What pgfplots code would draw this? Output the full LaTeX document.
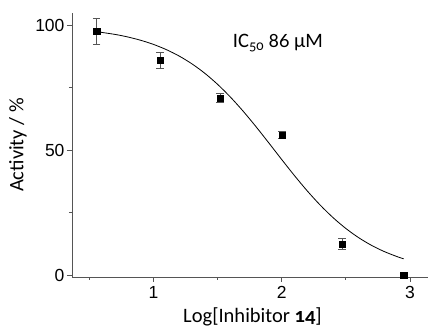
\documentclass[border=0pt]{standalone}
\usepackage{fontspec}
\setmainfont{Carlito}[Numbers=OldStyle]
\newfontfamily\tickfont{Liberation Sans}
\usepackage{pgfplots}
\pgfplotsset{compat=1.18}
\definecolor{axgray}{HTML}{555555}
\begin{document}
\begin{tikzpicture}
\begin{axis}[
  name=ax,
  scale only axis,
  width=356pt, height=264pt,
  xmin=0.364, xmax=3.14,
  ymin=-0.8, ymax=105,
  axis x line=bottom, axis y line=left,
  axis line style={-, axgray, line width=0.9pt},
  tick style={axgray, line width=0.9pt},
  tick align=outside,
  major tick length=5pt, minor tick length=3pt,
  xtick={1,2,3}, ytick={0,50,100},
  minor xtick={0.5,1.5,2.5}, minor ytick={25,75},
  /pgf/number format/assume math mode=true,
  ticklabel style={font=\tickfont\fontsize{17.5}{20}\selectfont, black},
  yticklabel style={xshift=1pt},
  xticklabel style={yshift=-1pt},
  xlabel={Log[Inhibitor \textbf{14}]},
  ylabel={Activity / \%},
  label style={font=\fontsize{20.5}{24}\selectfont},
  xlabel style={at={(axis description cs:0.507,-0.152)}, anchor=center},
  ylabel style={at={(axis description cs:-0.152,0.5)}, anchor=center},
  clip=false,
]
\addplot[black, line width=0.8pt, smooth] coordinates {
(0.556,97.52) (0.7,96.41) (0.8,95.38) (0.9,94.06) (1.0,92.40) (1.1,90.31)
(1.2,87.74) (1.3,84.59) (1.4,80.82) (1.5,76.37) (1.6,71.26) (1.7,65.56)
(1.8,59.36) (1.9,52.85) (2.0,46.23) (2.1,39.75) (2.2,33.61) (2.3,27.98)
(2.4,22.97) (2.5,18.62) (2.6,14.93) (2.7,11.87) (2.8,9.37) (2.9,7.35) (2.95,6.50)
};
\addplot[only marks, mark=square*, mark size=3.1pt, black,
  error bars/.cd, y dir=both, y explicit,
  error bar style={axgray, line width=0.8pt},
  error mark options={axgray, line width=0.8pt, rotate=90, mark size=3.8pt}]
coordinates {
(0.556,97.7) +- (0,5.2)
(1.05,86.0) +- (0,3.1)
(1.52,70.8) +- (0,1.8)
(2.0,56.1) +- (0,1.5)
(2.47,12.4) +- (0,2.2)
(2.95,0.0) +- (0,0.5)
};
\node[font=\fontsize{20.5}{24}\selectfont, anchor=center] at (axis cs:1.97,92.8) {IC\textsubscript{50} 86 µM};
\end{axis}
\pgfresetboundingbox
\path[use as bounding box] ([xshift=-72pt,yshift=-59pt]ax.south west) rectangle ([xshift=2pt,yshift=13pt]ax.north east);
\end{tikzpicture}
\end{document}
